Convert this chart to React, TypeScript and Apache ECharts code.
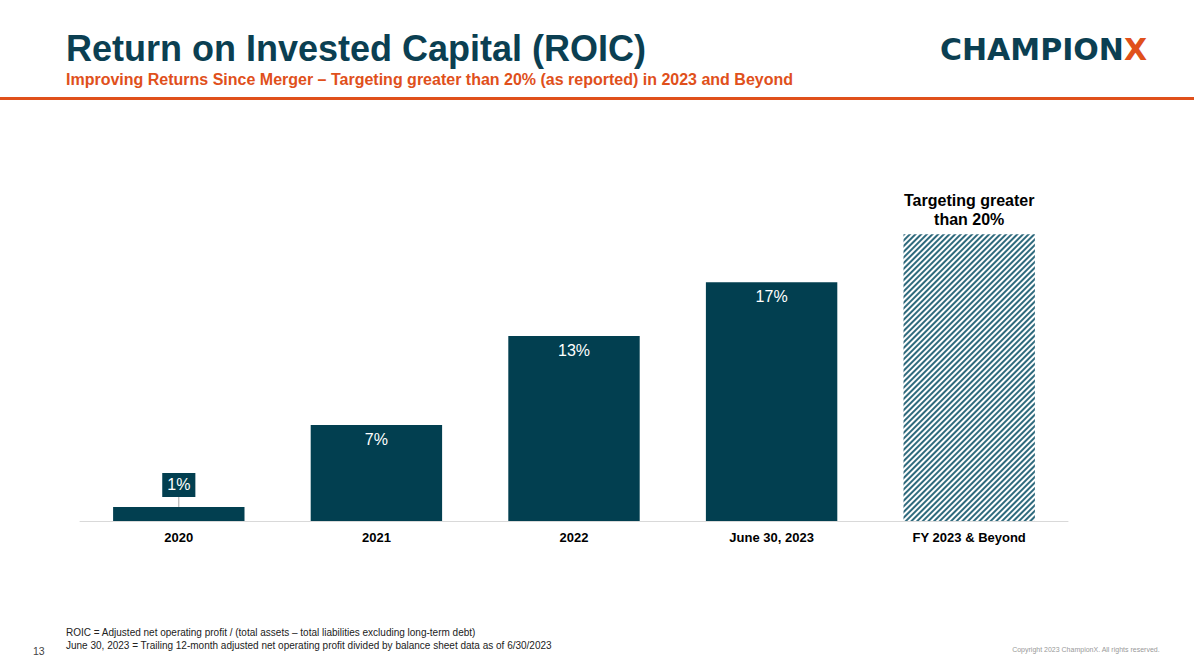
import React, { useEffect, useRef } from "react";
import * as echarts from "echarts";

const categories = ["2020", "2021", "2022", "June 30, 2023", "FY 2023 & Beyond"];
const values = [1.0, 6.83, 13.17, 17.0, 20.43];
const valueLabels = ["1%", "7%", "13%", "17%", "Targeting greater\nthan 20%"];

const TEAL = "#023f50";
const ORANGE = "#e0501b";

export default function App() {
  const ref = useRef<HTMLDivElement>(null);
  useEffect(() => {
    document.body.style.margin = "0";
    const chart = echarts.init(ref.current!, null, { renderer: "svg" });
    const font = "'Liberation Sans', Arial, sans-serif";
    const logoFont = "'DejaVu Sans', sans-serif";
    const data = values.map((v, i) => {
      if (i === 0) {
        return {
          value: v,
          label: {
            show: true,
            position: "top",
            distance: 10,
            formatter: valueLabels[i],
            color: "#fff",
            fontSize: 16,
            fontFamily: font,
            backgroundColor: TEAL,
            padding: [4, 5, 4, 5],
            lineHeight: 16,
          },
        };
      }
      if (i === values.length - 1) {
        return {
          value: v,
          itemStyle: {
            color: "#ffffff",
            decal: {
              symbol: "rect",
              color: "#2f6a7d",
              backgroundColor: "#ffffff",
              dashArrayX: [1, 0],
              dashArrayY: [1.2, 1.6],
              rotation: -Math.PI / 4,
              symbolSize: 1,
            },
          },
          label: {
            show: true,
            position: "top",
            distance: 5,
            formatter: valueLabels[i],
            color: "#000",
            fontSize: 16,
            fontWeight: "bold",
            lineHeight: 19,
            fontFamily: font,
          },
        };
      }
      return {
        value: v,
        label: {
          show: true,
          position: "insideTop",
          distance: 6,
          formatter: valueLabels[i],
          color: "#fff",
          fontSize: 16,
          fontFamily: font,
        },
      };
    });

    chart.setOption({
      animation: false,
      aria: { enabled: false },
      grid: { left: 80, right: 126, top: 170, bottom: 150 },
      xAxis: {
        type: "category",
        data: categories,
        axisLine: { lineStyle: { color: "#d9d9d9", width: 1 } },
        axisTick: { show: false },
        axisLabel: {
          color: "#000",
          fontWeight: "bold",
          fontSize: 13,
          fontFamily: font,
          margin: 10,
        },
      },
      yAxis: {
        type: "value",
        min: 0,
        max: 25,
        show: false,
        splitLine: { show: false },
      },
      series: [
        {
          type: "bar",
          data,
          barWidth: "66.5%",
          itemStyle: { color: TEAL },
        },
      ],
      graphic: [
        {
          type: "text",
          left: 66,
          top: 30,
          style: {
            text: "Return on Invested Capital (ROIC)",
            fill: "#0b3f52",
            font: `bold 36px ${font}`,
          },
        },
        {
          type: "text",
          left: 66,
          top: 71,
          style: {
            text: "Improving Returns Since Merger – Targeting greater than 20% (as reported) in 2023 and Beyond",
            fill: ORANGE,
            font: `bold 16px ${font}`,
          },
        },
        {
          type: "rect",
          shape: { x: 0, y: 97, width: 1194, height: 3 },
          style: { fill: ORANGE },
        },
        {
          type: "text",
          x: 940,
          y: 34,
          style: {
            text: "{a|CHAMPION}{b|X}",
            rich: {
              a: { fill: "#0b3f52", fontSize: 30, fontWeight: "bold", fontFamily: logoFont },
              b: { fill: ORANGE, fontSize: 30, fontWeight: "bold", fontFamily: logoFont },
            },
            fontSize: 30,
            fontWeight: "bold",
            fontFamily: logoFont,
          },
        },
        {
          type: "text",
          left: 66,
          top: 627,
          style: {
            text: "ROIC = Adjusted net operating profit / (total assets – total liabilities excluding long-term debt)",
            fill: "#222",
            font: `10px ${font}`,
          },
        },
        {
          type: "text",
          left: 66,
          top: 640,
          style: {
            text: "June 30, 2023 = Trailing 12-month adjusted net operating profit divided by balance sheet data as of 6/30/2023",
            fill: "#222",
            font: `10px ${font}`,
          },
        },
        {
          type: "text",
          left: 33,
          top: 645,
          style: { text: "13", fill: "#444", font: `10.5px ${font}` },
        },
        {
          type: "text",
          right: 34,
          top: 646,
          style: { text: "Copyright 2023 ChampionX. All rights reserved.", fill: "#999", font: `7px ${font}` },
        },
      ],
    });

    const top = chart.convertToPixel({ seriesIndex: 0 }, [0, values[0]]) as number[];
    chart.setOption({
      graphic: [
        {
          id: "leader",
          type: "line",
          shape: { x1: top[0], y1: top[1], x2: top[0], y2: top[1] - 10 },
          style: { stroke: "#a6a6a6", lineWidth: 1 },
          z: 0,
        },
      ],
    });

    return () => chart.dispose();
  }, []);
  return <div ref={ref} style={{ width: 1194, height: 671 }} />;
}
